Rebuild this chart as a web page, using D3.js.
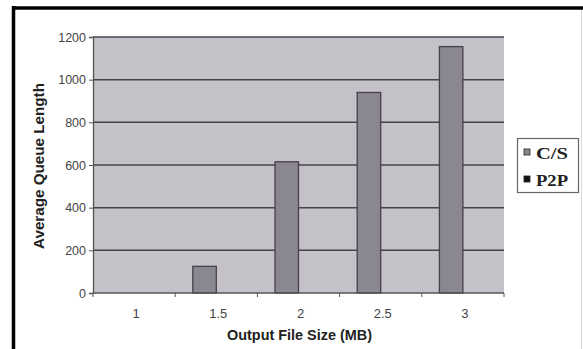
<!DOCTYPE html>
<html>
<head>
<meta charset="utf-8">
<script src="https://cdn.jsdelivr.net/npm/d3@7"></script>
<style>
  html, body { margin: 0; padding: 0; background: #fff; }
  svg { display: block; }
</style>
</head>
<body>
<script>
// Output file sizes (MB) on the category axis
const categories = ["1", "1.5", "2", "2.5", "3"];
// Series names shown in the legend
const seriesNames = ["C/S", "P2P"];
// Average queue length per file size
const csValues = [0, 125, 615, 940, 1155];
const p2pValues = [0, 0, 0, 0, 0];
// Value-axis ticks
const yTicks = [0, 200, 400, 600, 800, 1000, 1200];

const W = 583, H = 349;
const plot = { left: 93, right: 504, top: 37, bottom: 293 };
const colors = { "C/S": "#8b8791", "P2P": "#111111" };

const rows = categories.map((c, i) => ({ cat: c, "C/S": csValues[i], "P2P": p2pValues[i] }));

const svg = d3.select("body").append("svg").attr("width", W).attr("height", H);

// outer frame: heavy top/left edge, light right edge
svg.append("line").attr("x1", 13.5).attr("x2", 13.5).attr("y1", 6).attr("y2", H)
  .attr("stroke", "#000").attr("stroke-width", 3.5);
svg.append("line").attr("x1", 12).attr("x2", W).attr("y1", 8).attr("y2", 8)
  .attr("stroke", "#000").attr("stroke-width", 3.5);
svg.append("line").attr("x1", 581.5).attr("x2", 581.5).attr("y1", 10).attr("y2", H)
  .attr("stroke", "#d8d8d8").attr("stroke-width", 1);

const x = d3.scaleBand().domain(categories).range([plot.left, plot.right]).paddingInner(0).paddingOuter(0);
const xs = d3.scaleBand().domain(seriesNames).range([0, x.bandwidth()]).paddingInner(0).paddingOuter(0.75);
const y = d3.scaleLinear().domain([0, 1200]).range([plot.bottom, plot.top]);

// plot background
svg.append("rect").attr("x", plot.left).attr("y", plot.top)
  .attr("width", plot.right - plot.left).attr("height", plot.bottom - plot.top)
  .attr("fill", "#c5c1c9");

// horizontal gridlines
svg.append("g").selectAll("line").data(yTicks.filter(d => d > 0)).join("line")
  .attr("x1", plot.left).attr("x2", plot.right)
  .attr("y1", d => y(d)).attr("y2", d => y(d))
  .attr("stroke", "#46434b").attr("stroke-width", 1.5);

// bars
const groups = svg.append("g").selectAll("g").data(rows).join("g")
  .attr("transform", d => `translate(${x(d.cat)},0)`);
groups.selectAll("rect").data(d => seriesNames.map(s => ({ s, v: d[s] }))).join("rect")
  .attr("x", d => xs(d.s)).attr("width", xs.bandwidth())
  .attr("y", d => y(d.v)).attr("height", d => y(0) - y(d.v))
  .attr("fill", d => colors[d.s])
  .attr("stroke", d => d.v > 0 ? "#45414a" : "none").attr("stroke-width", 1.3);

// value axis
const yAxis = svg.append("g").attr("transform", `translate(${plot.left},0)`)
  .call(d3.axisLeft(y).tickValues(yTicks).tickFormat(d3.format("d")).tickSize(4).tickPadding(3));
yAxis.select(".domain").attr("stroke", "#555").attr("stroke-width", 1.3);
yAxis.selectAll(".tick line").attr("stroke", "#555");
yAxis.selectAll("text").attr("font-family", "Liberation Sans, Arial, sans-serif")
  .attr("font-size", 12.5).attr("fill", "#444");

// category axis: ticks between categories, labels at centers
const xAxisG = svg.append("g").attr("transform", `translate(0,${plot.bottom})`);
xAxisG.append("line").attr("x1", plot.left).attr("x2", plot.right)
  .attr("stroke", "#555").attr("stroke-width", 1.5);
const bounds = categories.map(c => x(c)).concat([plot.right]);
xAxisG.selectAll(".bt").data(bounds).join("line").attr("class", "bt")
  .attr("x1", d => d).attr("x2", d => d).attr("y1", 0).attr("y2", 4)
  .attr("stroke", "#555");
xAxisG.selectAll("text").data(categories).join("text")
  .attr("x", d => x(d) + x.bandwidth() / 2 + 2).attr("y", 25)
  .attr("text-anchor", "middle")
  .attr("font-family", "Liberation Sans, Arial, sans-serif")
  .attr("font-size", 13).attr("fill", "#444").text(d => d);

// axis titles
svg.append("text").attr("x", 299.5).attr("y", 340).attr("text-anchor", "middle")
  .attr("font-family", "Liberation Sans, Arial, sans-serif").attr("font-weight", "bold")
  .attr("font-size", 14).attr("fill", "#222")
  .attr("textLength", 145).attr("lengthAdjust", "spacingAndGlyphs")
  .text("Output File Size (MB)");
svg.append("text").attr("transform", "translate(44,166) rotate(-90)").attr("text-anchor", "middle")
  .attr("font-family", "Liberation Sans, Arial, sans-serif").attr("font-weight", "bold")
  .attr("font-size", 14).attr("fill", "#222")
  .attr("textLength", 166).attr("lengthAdjust", "spacingAndGlyphs")
  .text("Average Queue Length");

// legend
const lg = svg.append("g");
lg.append("rect").attr("x", 517.5).attr("y", 138.5).attr("width", 61).attr("height", 54)
  .attr("fill", "#fff").attr("stroke", "#666").attr("stroke-width", 1.2);
const items = lg.selectAll(".it").data(seriesNames).join("g").attr("class", "it")
  .attr("transform", (d, i) => `translate(0,${152 + i * 27})`);
items.append("rect").attr("x", 524).attr("y", -3).attr("width", 6).attr("height", 6)
  .attr("fill", d => colors[d]).attr("stroke", "#222").attr("stroke-width", 0.8);
items.append("text").attr("x", 536).attr("y", 6.5)
  .attr("font-family", "Liberation Serif, Times New Roman, serif").attr("font-weight", "bold")
  .attr("font-size", 16).attr("fill", "#222")
  .attr("textLength", 32).attr("lengthAdjust", "spacingAndGlyphs")
  .text(d => d);
</script>
</body>
</html>
